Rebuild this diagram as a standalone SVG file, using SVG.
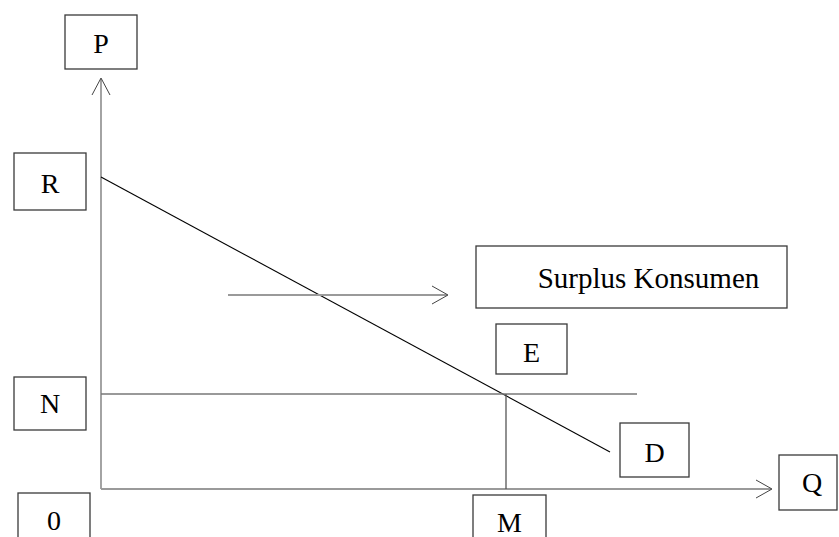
<svg xmlns="http://www.w3.org/2000/svg" width="839" height="537" viewBox="0 0 839 537">
<style>
.box{fill:#fff;stroke:#3a3a3a;stroke-width:1.3}
.lbl{font-family:"Liberation Serif","Times New Roman",serif;font-size:28px;fill:#000;text-anchor:middle}
.axis{stroke:#9a9a9a;stroke-width:1.8;fill:none}
.head{stroke:#444;stroke-width:1;fill:none}
</style>
<rect width="839" height="537" fill="#fff"/>
<g id="connectors">
<line class="axis" x1="101" y1="79" x2="101" y2="489"/>
<line class="axis" x1="101" y1="489" x2="771" y2="489"/>
<polyline class="head" points="92,95 101,78 110,95"/>
<polyline class="head" points="756,480 772,489 756,498"/>
<line stroke="#000" stroke-width="1.1" x1="101" y1="177" x2="610" y2="452"/>
<line stroke="#777" stroke-width="1.6" x1="101" y1="394" x2="637" y2="394"/>
<line stroke="#555" stroke-width="1.3" x1="506" y1="394" x2="506" y2="489"/>
<line class="axis" x1="228" y1="295" x2="447" y2="295"/>
<polyline class="head" points="432,286 448,295 432,304"/>
</g>
<g id="node-P"><rect class="box" x="65" y="15" width="72" height="54"/><text class="lbl" x="101" y="53">P</text></g>
<g id="node-R"><rect class="box" x="14" y="153" width="72" height="57"/><text class="lbl" x="50" y="193">R</text></g>
<g id="node-N"><rect class="box" x="14" y="377" width="72" height="53"/><text class="lbl" x="50" y="413">N</text></g>
<g id="node-0"><rect class="box" x="18" y="493" width="72" height="60"/><text class="lbl" x="54" y="530">0</text></g>
<g id="node-M"><rect class="box" x="473" y="495" width="73" height="60"/><text class="lbl" x="509.5" y="532">M</text></g>
<g id="node-D"><rect class="box" x="620" y="423" width="69" height="54"/><text class="lbl" x="654.5" y="462">D</text></g>
<g id="node-Q"><rect class="box" x="779" y="455" width="58" height="55"/><text class="lbl" x="812" y="492">Q</text></g>
<g id="node-E"><rect class="box" x="496" y="324" width="71" height="50"/><text class="lbl" x="531.5" y="362">E</text></g>
<g id="node-surplus"><rect class="box" x="476" y="246" width="311" height="62"/><text class="lbl" x="648.5" y="288" style="font-size:29px">Surplus Konsumen</text></g>
</svg>
